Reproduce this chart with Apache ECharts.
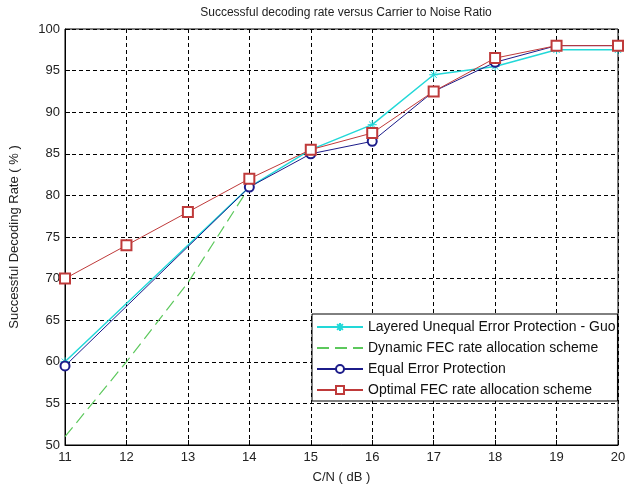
<!DOCTYPE html>
<html>
<head>
<meta charset="utf-8">
<script src="https://cdn.jsdelivr.net/npm/echarts@6/dist/echarts.min.js"></script>
<style>
  html, body { margin: 0; padding: 0; background: #fff; }
  #chart { width: 636px; height: 489px; }
</style>
</head>
<body>
<div id="chart"></div>
<script>
// C/N (dB) values and decoding rates (%)
const seriesNames = [
  'Layered Unequal Error Protection - Guo',
  'Dynamic FEC rate allocation scheme',
  'Equal Error Protection',
  'Optimal FEC rate allocation scheme'
]
const guoX = [11, 14, 15, 16, 17, 18, 19, 20]
const guoY = [60, 81, 85.5, 88.5, 94.5, 95.5, 97.5, 97.5]
const dynX = [11, 12, 13, 14]
const dynY = [51, 60, 69.5, 81]
const eepX = [11, 14, 15, 16, 17, 18, 19, 20]
const eepY = [59.5, 81, 85, 86.5, 92.5, 96, 98, 98]
const optX = [11, 12, 13, 14, 15, 16, 17, 18, 19, 20]
const optY = [70, 74, 78, 82, 85.5, 87.5, 92.5, 96.5, 98, 98]

const pairs = (xs, ys) => xs.map((x, i) => [x, ys[i]])

const chart = echarts.init(document.getElementById('chart'))
const font = 'Liberation Sans, Arial, sans-serif'
const star = 'path://M0,-5L0,5M-5,0L5,0M-3.6,-3.6L3.6,3.6M-3.6,3.6L3.6,-3.6'

chart.setOption({
  backgroundColor: '#fff',
  animation: false,
  textStyle: { fontFamily: font },
  title: {
    text: 'Successful decoding rate versus Carrier to Noise Ratio',
    left: 341,
    top: 2,
    textAlign: 'center',
    textStyle: { fontSize: 12, fontWeight: 'normal', color: '#222', fontFamily: font }
  },
  legend: {
    orient: 'vertical',
    left: 312,
    top: 314,
    width: 305,
    padding: [6, 2, 4, 4],
    itemGap: 7,
    itemWidth: 46,
    itemHeight: 10,
    backgroundColor: '#fff',
    borderColor: '#000',
    borderWidth: 1,
    textStyle: { fontSize: 14, color: '#111', fontFamily: font, lineHeight: 14 },
    data: [
      seriesNames[0],
      { name: seriesNames[1], itemStyle: { opacity: 0 } },
      seriesNames[2],
      seriesNames[3]
    ]
  },
  grid: {
    left: 64,
    right: 18,
    top: 29,
    bottom: 44,
    show: true,
    borderColor: '#000',
    borderWidth: 1
  },
  xAxis: {
    type: 'value',
    min: 11,
    max: 20,
    interval: 1,
    name: 'C/N ( dB )',
    nameLocation: 'middle',
    nameGap: 26,
    nameTextStyle: { fontSize: 13, color: '#222' },
    axisLine: { lineStyle: { color: '#000' } },
    axisTick: { inside: true, length: 5, lineStyle: { color: '#000' } },
    axisLabel: { fontSize: 13, color: '#222', margin: 6 },
    splitLine: { show: true, lineStyle: { color: '#000', type: [4, 3], width: 1 } }
  },
  yAxis: {
    type: 'value',
    min: 50,
    max: 100,
    interval: 5,
    name: 'Successful Decoding Rate ( % )',
    nameLocation: 'middle',
    nameGap: 44,
    nameTextStyle: { fontSize: 13, color: '#222' },
    axisLine: { show: true, lineStyle: { color: '#000' } },
    axisTick: { show: true, inside: true, length: 5, lineStyle: { color: '#000' } },
    axisLabel: { fontSize: 13, color: '#222', margin: 5 },
    splitLine: { show: true, lineStyle: { color: '#000', type: [4, 3], width: 1 } }
  },
  series: [
    {
      name: seriesNames[1],
      type: 'line',
      data: pairs(dynX, dynY),
      symbol: 'none',
      color: '#5cc85c',
      lineStyle: { color: '#5cc85c', width: 1.2, type: [12, 6] }
    },
    {
      name: seriesNames[0],
      type: 'line',
      data: pairs(guoX, guoY),
      symbol: star,
      symbolSize: 9,
      color: '#22d8d8',
      itemStyle: { color: '#22d8d8', borderColor: '#22d8d8', borderWidth: 1 },
      lineStyle: { color: '#22d8d8', width: 1.5 }
    },
    {
      name: seriesNames[2],
      type: 'line',
      data: pairs(eepX, eepY),
      symbol: 'emptyCircle',
      symbolSize: 9,
      color: '#1c1c8a',
      itemStyle: { color: '#1c1c8a', borderWidth: 1 },
      lineStyle: { color: '#1c1c8a', width: 1 }
    },
    {
      name: seriesNames[3],
      type: 'line',
      data: pairs(optX, optY),
      symbol: 'emptyRect',
      symbolSize: 10,
      color: '#bf3a3a',
      itemStyle: { color: '#bf3a3a', borderWidth: 1 },
      lineStyle: { color: '#bf3a3a', width: 1 }
    }
  ]
})
</script>
</body>
</html>
